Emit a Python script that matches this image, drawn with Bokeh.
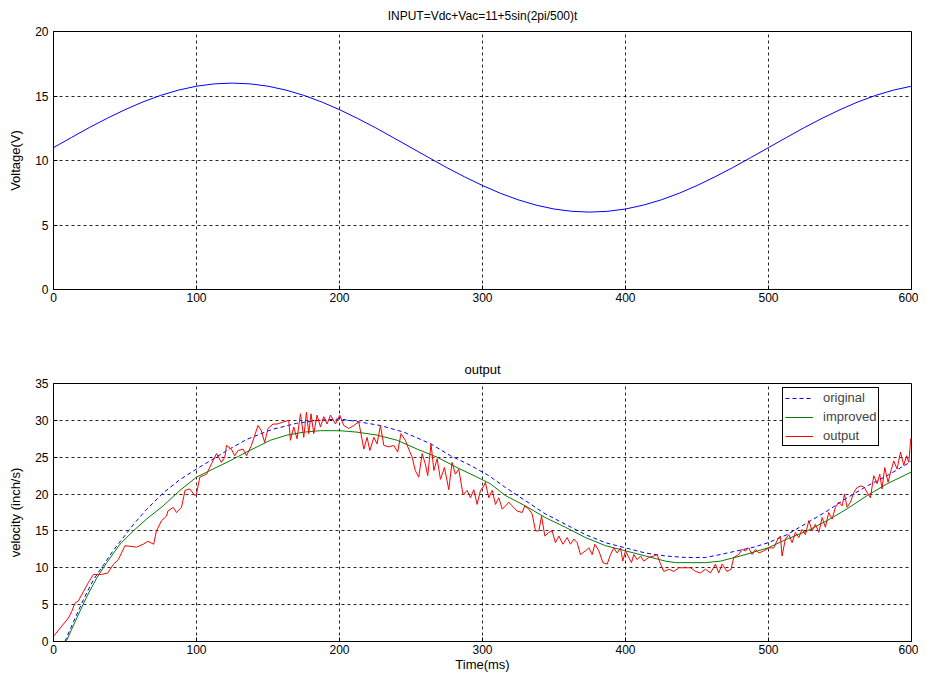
from bokeh.plotting import figure
from bokeh.layouts import column
from bokeh.models import Range1d, FixedTicker
from bokeh.embed import file_html
from bokeh.resources import INLINE

# ---------------- data ----------------
x_ticks = [0, 100, 200, 300, 400, 500, 600]
top_y_ticks = [0, 5, 10, 15, 20]
bottom_y_ticks = [0, 5, 10, 15, 20, 25, 30, 35]

input_t = [0, 12.5, 25, 37.5, 50, 62.5, 75, 87.5, 100, 112.5, 125, 137.5,
           150, 162.5, 175, 187.5, 200, 212.5, 225, 237.5, 250, 262.5, 275,
           287.5, 300, 312.5, 325, 337.5, 350, 362.5, 375, 387.5, 400, 412.5,
           425, 437.5, 450, 462.5, 475, 487.5, 500, 512.5, 525, 537.5, 550,
           562.5, 575, 587.5, 600]
input_v = [11.0, 11.78, 12.55, 13.27, 13.94, 14.54, 15.05, 15.46, 15.76, 15.94,
           16.0, 15.94, 15.76, 15.46, 15.05, 14.54, 13.94, 13.27, 12.55, 11.78,
           11.0, 10.22, 9.45, 8.73, 8.06, 7.46, 6.95, 6.54, 6.24, 6.06, 6.0,
           6.06, 6.24, 6.54, 6.95, 7.46, 8.06, 8.73, 9.45, 10.22, 11.0, 11.78,
           12.55, 13.27, 13.94, 14.54, 15.05, 15.46, 15.76]

original_t = [8, 14, 21, 28, 35, 42, 50, 56, 65, 77, 88, 100, 112, 123, 135,
              146.5, 153.5, 170, 185, 200, 213.5, 228.6, 245, 264, 277.6,
              291.6, 304.4, 316, 330, 344, 358, 372, 386, 400, 414, 428, 442,
              456, 466.4, 480.4, 489.7, 499.7, 513, 527, 541, 555, 569, 583,
              597, 600]
original_v = [0, 2.7, 5.7, 8.4, 10.4, 12.4, 14.4, 15.9, 17.9, 20.2, 21.9, 23.4,
              24.8, 26.1, 27.4, 28.3, 28.8, 29.6, 30.0, 30.2, 29.8, 29.3, 28.4,
              26.8, 25.2, 23.9, 22.5, 20.9, 19.1, 17.3, 15.9, 14.5, 13.4, 12.7,
              12.0, 11.6, 11.4, 11.4, 11.8, 12.4, 12.8, 13.4, 14.5, 16.1, 17.7,
              19.5, 21.1, 22.5, 24.1, 24.5]

improved_t = [0, 8, 9.3, 16.3, 23.3, 30.2, 37.2, 46.5, 55.8, 65, 76.7, 88.4,
              100, 111.6, 123.3, 135, 146.5, 151.7, 163.4, 175, 186.7, 200.2,
              212.3, 226.3, 240.3, 254.3, 268.3, 282.2, 296.2, 305.5, 316,
              330, 344, 358, 372, 386, 400, 414, 428, 435, 446.6, 456, 466.4,
              480.4, 499.7, 513, 527, 541, 555, 569, 583, 600]
improved_v = [0, 0, 0.2, 3.2, 6.1, 8.6, 10.7, 13.2, 15.0, 16.6, 18.4, 20.5,
              22.3, 23.4, 24.5, 25.7, 26.8, 27.3, 28.0, 28.4, 28.6, 28.6, 28.4,
              28.0, 27.3, 26.1, 25.0, 23.6, 22.3, 21.4, 19.8, 18.4, 16.8, 15.5,
              14.1, 13.0, 12.3, 11.6, 10.9, 10.7, 10.7, 10.7, 10.9, 11.6, 12.7,
              13.9, 15.0, 16.4, 18.0, 19.8, 21.4, 23.0]

output_t = [0, 4.6, 10.5, 12.8, 15, 17.4, 21, 24.4, 28, 33.7, 38, 42, 45.3, 50,
            58, 62.8, 66, 70, 72, 75.6, 79, 80, 83.7, 86, 89.5, 92, 95.3, 98.8,
            100, 102.3, 107, 110.5, 114, 117.4, 119.8, 121, 124.4, 126.7, 129,
            132.6, 135, 138.4, 143, 145.3, 147.7, 150, 153.5, 156.4, 161,
            164.5, 165.7, 168, 170.3, 172.7, 175, 176.9, 178.5, 180.1, 182,
            184.3, 186.7, 189, 191.3, 193.7, 197.2, 200.2, 203, 206.5, 210,
            213.5, 217, 219.3, 221.2, 224, 226.3, 228.6, 231, 234.5, 238,
            240.7, 243, 246, 248.4, 250.8, 253, 255.4, 257.8, 260, 261.7, 264,
            266, 268.3, 270.6, 273.4, 276.4, 278.7, 281, 283.4, 286.4, 289.2,
            291.6, 293.9, 296.2, 298.6, 300.9, 302, 304.4, 306.8, 309.1, 311.4,
            313.8, 316.1, 318.4, 320.7, 324.2, 327.7, 329.6, 332.4, 334.7,
            337.1, 339.4, 341.3, 343.6, 346.4, 348.7, 351, 353.4, 356.2, 359.2,
            361.5, 363.9, 366.2, 368.5, 372, 374.4, 376.7, 378.6, 381.4, 384.2,
            387.2, 389.5, 391.8, 394.2, 396.5, 398.1, 400, 402.3, 404.2, 405.8,
            408.2, 410.5, 412.8, 416.3, 419.8, 422.1, 424.5, 426.8, 430.3,
            433.8, 437.3, 442, 445.5, 449, 452.4, 455.9, 459.4, 462.9, 465.2,
            467.6, 471, 473.8, 475.7, 479.2, 481.5, 483.9, 486.2, 488.5, 490.9,
            493.2, 496.7, 500.2, 503.7, 506.5, 508.3, 509.5, 511.8, 514.2,
            516.5, 518.8, 521.2, 523.5, 525.8, 528.2, 530.5, 532.8, 535.2,
            537.5, 539.8, 542.1, 544.5, 546.8, 549.1, 551.5, 553.1, 555, 557.3,
            559.6, 562, 564.8, 567.1, 569, 571.3, 573.6, 576, 577.8, 579.4,
            581.3, 583.6, 585.7, 587.6, 589.9, 592.3, 594.6, 596.5, 598.1,
            599.5, 600]
output_v = [0.7, 1.8, 3.2, 4.1, 5.2, 5.5, 6.8, 8.0, 9.1, 9.1, 9.3, 10.5, 11.1,
            13.0, 12.8, 13.2, 13.6, 13.2, 15.0, 16.4, 17.0, 17.7, 18.2, 17.5,
            18.2, 20.5, 20.7, 19.8, 20.0, 22.3, 22.7, 24.1, 25.5, 24.3, 25.0,
            26.6, 26.1, 25.2, 25.9, 26.1, 25.2, 26.6, 29.3, 28.6, 27.0, 28.9,
            29.5, 29.5, 29.8, 30.0, 27.3, 29.1, 27.5, 30.9, 27.7, 31.1, 28.2,
            30.9, 28.2, 30.7, 29.1, 30.5, 29.5, 30.7, 29.5, 30.7, 29.3, 28.9,
            29.3, 29.8, 26.1, 27.7, 25.9, 27.7, 26.8, 29.3, 26.6, 26.4, 26.6,
            25.7, 28.2, 27.3, 26.1, 25.0, 23.2, 22.3, 25.5, 24.1, 22.5, 26.8,
            23.2, 24.8, 22.0, 23.6, 20.6, 24.3, 22.7, 23.4, 19.9, 20.5, 19.5,
            20.6, 18.6, 20.5, 21.1, 21.6, 19.5, 20.5, 18.6, 19.5, 17.95, 18.4,
            18.9, 18.4, 17.7, 17.5, 18.4, 17.95, 17.3, 15.0, 15.0, 17.0, 14.3,
            14.8, 15.0, 13.4, 14.3, 13.2, 14.1, 13.2, 13.9, 13.4, 11.8, 12.3,
            12.7, 11.8, 13.2, 12.3, 10.7, 10.5, 11.8, 12.7, 12.0, 12.7, 10.9,
            12.3, 11.4, 10.7, 11.8, 11.1, 11.6, 10.9, 11.4, 11.6, 11.8, 10.5,
            9.5, 9.8, 9.5, 10.0, 10.0, 10.0, 9.5, 9.3, 9.8, 9.3, 10.5, 9.3,
            10.5, 9.5, 9.8, 11.4, 11.8, 12.5, 12.3, 12.7, 11.8, 12.5, 12.0,
            12.3, 12.7, 12.7, 13.9, 14.3, 11.6, 13.9, 14.5, 13.4, 14.8, 14.1,
            15.2, 14.5, 16.4, 15.0, 15.9, 14.8, 16.8, 15.5, 17.5, 16.6, 18.2,
            18.9, 18.4, 20.0, 18.2, 18.9, 20.2, 20.9, 21.1, 20.9, 20.2, 19.5,
            22.5, 21.4, 22.7, 20.7, 23.6, 21.6, 23.2, 24.5, 23.4, 25.7, 23.9,
            25.2, 24.3, 27.5, 27.3]

top_title = "INPUT=Vdc+Vac=11+5sin(2pi/500)t"
bottom_title = "output"
top_ylabel = "Voltage(V)"
bottom_ylabel = "velocity (inch/s)"
bottom_xlabel = "Time(ms)"
legend_labels = ["original", "improved", "output"]

FONT = "Liberation Sans"


def style(p, yticks, xlabel, ylabel, title_size, title_standoff):
    p.outline_line_color = "black"
    p.outline_line_width = 1
    p.title.align = "center"
    p.title.vertical_align = "top"
    p.title.standoff = title_standoff
    p.title.text_font = FONT
    p.title.text_font_size = title_size
    p.title.text_font_style = "normal"
    p.title.text_color = "black"
    p.xaxis.ticker = FixedTicker(ticks=x_ticks)
    p.yaxis.ticker = FixedTicker(ticks=yticks)
    for ax in (p.xaxis, p.yaxis):
        ax.axis_line_color = "black"
        ax.major_tick_line_color = "black"
        ax.major_tick_in = 4
        ax.major_tick_out = 0
        ax.minor_tick_line_color = None
        ax.major_label_text_font = FONT
        ax.major_label_text_font_size = "12px"
        ax.major_label_text_color = "black"
        ax.axis_label_text_font = FONT
        ax.axis_label_text_font_size = "13px"
        ax.axis_label_text_font_style = "normal"
        ax.axis_label_text_color = "black"
    p.xaxis.major_label_standoff = 3
    p.yaxis.major_label_standoff = 5
    p.yaxis.axis_label = ylabel
    p.yaxis.axis_label_standoff = 9
    if xlabel:
        p.xaxis.axis_label = xlabel
        p.xaxis.axis_label_standoff = 0
    for g in (p.xgrid, p.ygrid):
        g.grid_line_color = "black"
        g.grid_line_dash = "3 3"
        g.grid_line_width = 1
        g.grid_line_alpha = 0.85
    p.ygrid.ticker = FixedTicker(ticks=yticks)
    p.xgrid.ticker = FixedTicker(ticks=x_ticks)


p1 = figure(width=918, height=338, output_backend="svg", toolbar_location=None,
            x_range=Range1d(0, 600), y_range=Range1d(0, 20), title=top_title,
            min_border_left=53, min_border_right=7, min_border_top=31,
            min_border_bottom=49)
style(p1, top_y_ticks, None, top_ylabel, "12px", 14)
p1.line(input_t, input_v, line_color="#0000ff", line_width=1)

p2 = figure(width=918, height=340, output_backend="svg", toolbar_location=None,
            x_range=Range1d(0, 600), y_range=Range1d(0, 35), title=bottom_title,
            min_border_left=53, min_border_right=7, min_border_top=45,
            min_border_bottom=37)
style(p2, bottom_y_ticks, bottom_xlabel, bottom_ylabel, "13px", 10)
p2.line(original_t, original_v, line_color="#0000ff", line_width=1,
        line_dash="4 3", legend_label=legend_labels[0])
p2.line(improved_t, improved_v, line_color="#008000", line_width=1,
        legend_label=legend_labels[1])
p2.line(output_t, output_v, line_color="#ff0000", line_width=1,
        legend_label=legend_labels[2])

lg = p2.legend[0]
lg.location = (729, 195)
lg.margin = 0
lg.padding = 2
lg.spacing = 4
lg.label_text_font = FONT
lg.label_text_font_size = "13px"
lg.label_height = 14
lg.glyph_height = 14
lg.glyph_width = 28
lg.label_standoff = 10
lg.border_line_color = "black"
lg.border_line_width = 1
lg.border_line_alpha = 1
lg.background_fill_color = "white"
lg.background_fill_alpha = 1

layout = column(p1, p2)
open("out.html", "w").write(file_html(layout, INLINE))
